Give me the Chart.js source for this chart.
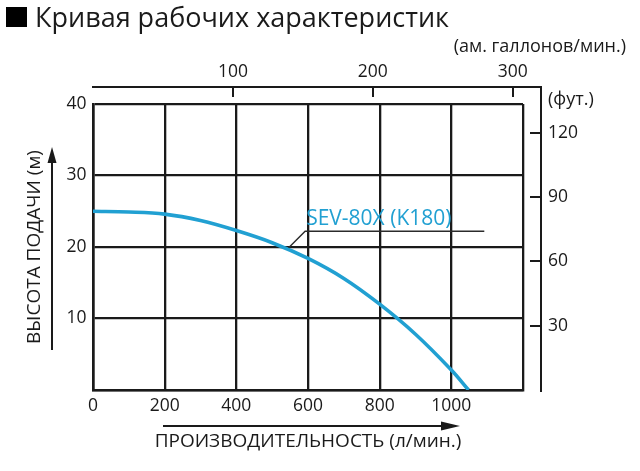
<!DOCTYPE html>
<html lang="ru">
<head>
<meta charset="UTF-8">
<title>Кривая рабочих характеристик</title>
<script src="https://cdn.jsdelivr.net/npm/chart.js"></script>
<style>
  html, body { margin: 0; padding: 0; background: #fff; }
  #wrap { width: 640px; height: 471px; }
</style>
</head>
<body>
<div id="wrap"><canvas id="chart" width="640" height="471"></canvas></div>
<script>
  // производительность, л/мин
  const flowLpm = [0, 100, 200, 300, 400, 500, 600, 700, 800, 900, 1000, 1048];
  // высота подачи, м
  const headM = [25, 24.9, 24.6, 23.7, 22.3, 20.6, 18.4, 15.6, 12.0, 7.8, 2.8, 0];
  const seriesName = 'SEV-80X (K180)';

  const xLabels = [0, 200, 400, 600, 800, 1000];
  const yLabels = [10, 20, 30, 40];
  const galTicks = [100, 200, 300];
  const ftTicks = [30, 60, 90, 120];

  const FONT = "'Open Sans', sans-serif";
  const INK = '#1a1a1a';
  const BLUE = '#21a0d2';

  // where the name sits, in data units
  const lead = { curveX: 546, curveY: 19.9, kneeX: 592, kneeY: 22.2, endX: 1092 };

  function arrow(ctx, x1, y1, x2, y2, head, half) {
    const a = Math.atan2(y2 - y1, x2 - x1);
    const c = Math.cos(a), s = Math.sin(a);
    ctx.beginPath();
    ctx.moveTo(x1, y1);
    ctx.lineTo(x2 - head * c, y2 - head * s);
    ctx.stroke();
    ctx.beginPath();
    ctx.moveTo(x2, y2);
    ctx.lineTo(x2 - head * c + half * s, y2 - head * s - half * c);
    ctx.lineTo(x2 - head * c - half * s, y2 - head * s + half * c);
    ctx.closePath();
    ctx.fill();
  }

  const decor = {
    id: 'decor',
    afterDraw(chart) {
      const ctx = chart.ctx;
      const { x, y, xg, yf } = chart.scales;
      const area = chart.chartArea;
      ctx.save();

      // заголовок
      ctx.fillStyle = '#000';
      ctx.fillRect(6, 7, 21, 20);
      ctx.fillStyle = INK;
      ctx.textBaseline = 'alphabetic';
      ctx.textAlign = 'left';
      ctx.font = `27px ${FONT}`;
      ctx.fillText('Кривая рабочих характеристик', 35, 27);
      ctx.font = `18px ${FONT}`;
      ctx.textAlign = 'right';
      ctx.fillText('(ам. галлонов/мин.)', 626, 52);
      ctx.textAlign = 'left';
      ctx.fillText('(фут.)', yf.left + 7, 105);

      // рамка верхней и правой шкал
      ctx.strokeStyle = INK;
      ctx.lineWidth = 2;
      const by = Math.round(xg.bottom - 1) + 1;
      const bx = Math.round(yf.left - 1) + 1;
      ctx.beginPath();
      ctx.moveTo(xg.left, by);
      ctx.lineTo(bx, by);
      ctx.lineTo(bx, yf.bottom + 2);
      ctx.stroke();

      // стрелки у подписей осей
      const cx = (area.left + area.right) / 2;
      const cy = (area.top + area.bottom) / 2;
      arrow(ctx, y.left + 52, cy + 103, y.left + 52, cy - 100, 16, 4.5);
      arrow(ctx, cx - 145, area.bottom + 36, cx + 152, area.bottom + 36, 19, 4.5);

      // подпись кривой
      const px0 = x.getPixelForValue(lead.curveX), py0 = y.getPixelForValue(lead.curveY);
      const px1 = x.getPixelForValue(lead.kneeX), py1 = y.getPixelForValue(lead.kneeY);
      const px2 = x.getPixelForValue(lead.endX);
      ctx.strokeStyle = '#2b2b2b';
      ctx.lineWidth = 1.4;
      ctx.beginPath();
      ctx.moveTo(px0, py0);
      ctx.lineTo(px1, py1);
      ctx.lineTo(px2, py1);
      ctx.stroke();
      ctx.fillStyle = BLUE;
      ctx.font = `21px ${FONT}`;
      ctx.fillText(seriesName, px1 + 1, py1 - 6);

      ctx.restore();
    }
  };

  const tickFont = { family: FONT, size: 17.5 };
  const titleFont = { family: FONT, size: 19 };

  new Chart(document.getElementById('chart'), {
    type: 'line',
    data: {
      datasets: [{
        label: seriesName,
        data: flowLpm.map((v, i) => ({ x: v, y: headM[i] })),
        borderColor: BLUE,
        borderWidth: 3.6,
        pointRadius: 0,
        tension: 0.35,
        xAxisID: 'x',
        yAxisID: 'y'
      }]
    },
    options: {
      responsive: false,
      animation: false,
      layout: { padding: { top: 58, left: 0, right: 0, bottom: 0 } },
      plugins: { legend: { display: false }, tooltip: { enabled: false } },
      scales: {
        x: {
          type: 'linear', position: 'bottom', min: 0, max: 1200,
          ticks: {
            stepSize: 200, font: tickFont, color: INK, padding: 6, maxRotation: 0, autoSkip: false,
            callback: v => xLabels.includes(v) ? String(v) : ''
          },
          grid: { color: INK, lineWidth: 2.3, drawTicks: false },
          border: { display: true, color: INK, width: 2.6 },
          title: { display: true, text: 'ПРОИЗВОДИТЕЛЬНОСТЬ (л/мин.)', font: titleFont, color: INK, padding: { top: 0, bottom: 18 } },
          afterFit: s => { s.height = 81; }
        },
        y: {
          type: 'linear', position: 'left', min: 0, max: 40,
          ticks: {
            stepSize: 10, font: tickFont, color: INK, padding: 6.5,
            callback: v => yLabels.includes(v) ? String(v) : ''
          },
          grid: { color: INK, lineWidth: 2.3, drawTicks: false },
          border: { display: true, color: INK, width: 2.6 },
          title: { display: true, text: 'ВЫСОТА ПОДАЧИ (м)', font: titleFont, color: INK, padding: { top: 23, bottom: 0 } },
          afterFit: s => { s.width = 93; }
        },
        xgap: {
          type: 'linear', axis: 'x', position: 'top', weight: 0, display: true,
          grid: { display: false }, ticks: { display: false }, border: { display: false },
          afterFit: s => { s.height = 17; }
        },
        xg: {
          type: 'linear', axis: 'x', position: 'top', weight: 1, min: 0, max: 307.3,
          afterBuildTicks: s => { s.ticks = galTicks.map(v => ({ value: v })); },
          ticks: { font: tickFont, color: INK, padding: 14, maxRotation: 0, autoSkip: false },
          grid: { display: true, drawOnChartArea: false, drawTicks: true, tickLength: -10, color: INK, lineWidth: 2 },
          border: { display: true, color: INK, width: 2 },
          afterFit: s => { s.height = 29; }
        },
        ygap: {
          type: 'linear', axis: 'y', position: 'right', weight: 0, display: true,
          grid: { display: false }, ticks: { display: false }, border: { display: false },
          afterFit: s => { s.width = 18; }
        },
        yf: {
          type: 'linear', axis: 'y', position: 'right', weight: 1, min: 0, max: 133.5,
          afterBuildTicks: s => { s.ticks = ftTicks.map(v => ({ value: v })); },
          ticks: { font: tickFont, color: INK, padding: 18 },
          grid: { display: true, drawOnChartArea: false, drawTicks: true, tickLength: -11, color: INK, lineWidth: 2 },
          border: { display: true, color: INK, width: 2 },
          afterFit: s => { s.width = 99; }
        }
      }
    },
    plugins: [decor]
  });
</script>
</body>
</html>
